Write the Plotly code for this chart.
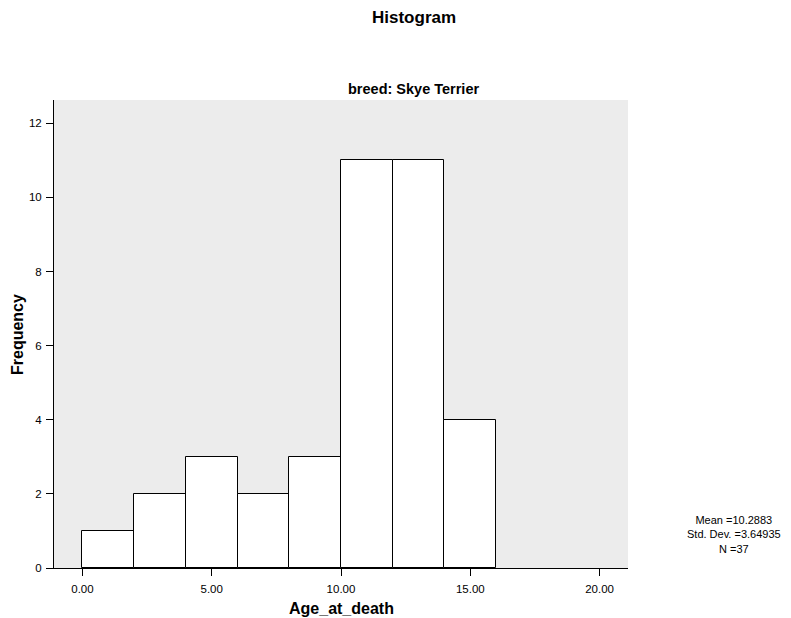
import numpy as np
import plotly.graph_objects as go

# Data
bin_edges = [0, 2, 4, 6, 8, 10, 12, 14, 16]
counts = [1, 2, 3, 2, 3, 11, 11, 4]
x_tick_vals = [0, 5, 10, 15, 20]
x_tick_text = ["0.00", "5.00", "10.00", "15.00", "20.00"]
y_tick_vals = [0, 2, 4, 6, 8, 10, 12]
stats_lines = ["Mean =10.2883", "Std. Dev. =3.64935", "N =37"]
title_text = "Histogram"
panel_text = "breed: Skye Terrier"
x_title = "Age_at_death"
y_title = "Frequency"

edges = np.array(bin_edges, dtype=float)
centers = (edges[:-1] + edges[1:]) / 2
widths = np.diff(edges)

FONT = "Liberation Sans, Arial, sans-serif"
OFF = 8  # page body margin
W, H = 791 - OFF, 618 - OFF
L = 54 - OFF
T = 100 - OFF
R = W - (628 - OFF)
B = H - (568 - OFF)
plot_w = W - L - R
plot_h = H - T - B


def paper_x(xr):
    return (xr - OFF - L) / plot_w


def paper_y(yr):
    return (H - B - (yr - OFF)) / plot_h


fig = go.Figure()
fig.add_trace(go.Bar(
    x=centers, y=counts, width=widths,
    marker=dict(color="white", line=dict(color="black", width=1)),
    showlegend=False, hoverinfo="x+y",
))

fig.update_layout(
    width=W, height=H,
    margin=dict(l=L, r=R, t=T, b=B, autoexpand=False),
    paper_bgcolor="white", plot_bgcolor="#ECECEC",
    font=dict(family=FONT, color="black", size=11),
    bargap=0,
    xaxis=dict(
        range=[-1.1, 21.1], tickmode="array", tickvals=x_tick_vals, ticktext=x_tick_text,
        showline=True, linecolor="black", linewidth=1, ticks="outside", ticklen=7,
        tickcolor="black", tickwidth=1, showgrid=False, zeroline=False,
        tickfont=dict(size=11.5, family=FONT), automargin=False, ticklabelstandoff=3,
    ),
    yaxis=dict(
        range=[0, 12.63], tickmode="array", tickvals=y_tick_vals,
        showline=True, linecolor="black", linewidth=1, ticks="outside", ticklen=7,
        tickcolor="black", tickwidth=1, showgrid=False, zeroline=False,
        tickfont=dict(size=11.5, family=FONT), automargin=False, ticklabelstandoff=2,
    ),
)

# Titles
fig.add_annotation(text="<b>" + title_text + "</b>", xref="paper", yref="paper",
                   x=paper_x(414), y=paper_y(18), showarrow=False,
                   font=dict(size=17, family=FONT), xanchor="center", yanchor="middle")
fig.add_annotation(text="<b>" + panel_text + "</b>", xref="paper", yref="paper",
                   x=paper_x(413), y=paper_y(89), showarrow=False,
                   font=dict(size=14.5, family=FONT), xanchor="center", yanchor="middle")

# Axis titles
fig.add_annotation(text="<b>" + x_title + "</b>", xref="paper", yref="paper",
                   x=paper_x(341), y=paper_y(608), showarrow=False,
                   font=dict(size=16, family=FONT), xanchor="center", yanchor="middle")
fig.add_annotation(text="<b>" + y_title + "</b>", xref="paper", yref="paper",
                   x=paper_x(17), y=paper_y(335), showarrow=False, textangle=-90,
                   font=dict(size=16, family=FONT), xanchor="center", yanchor="middle")

# Stats box (one centred block of lines)
fig.add_annotation(text="<br>".join(stats_lines), xref="paper", yref="paper",
                   x=paper_x(734), y=paper_y(534), showarrow=False, align="center",
                   font=dict(size=11, family=FONT), xanchor="center", yanchor="middle")

fig.write_html("out.html")
